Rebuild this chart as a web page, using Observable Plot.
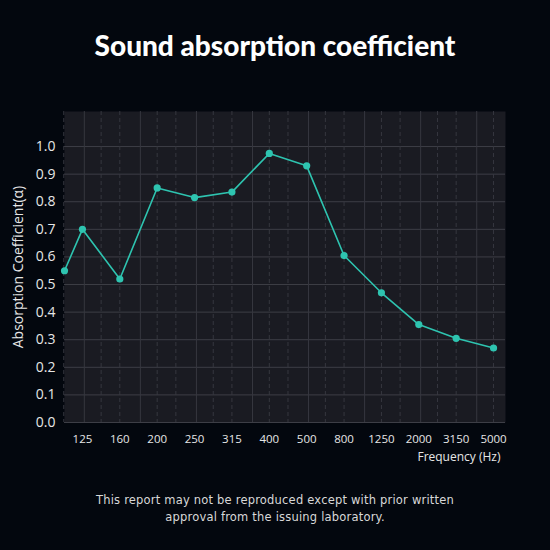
<!DOCTYPE html>
<html>
<head>
<meta charset="utf-8">
<script src="https://cdn.jsdelivr.net/npm/d3@7"></script>
<script src="https://cdn.jsdelivr.net/npm/@observablehq/plot@0.6"></script>
<style>
  html, body { margin: 0; padding: 0; background: #03070e; }
  body { width: 550px; height: 550px; overflow: hidden; }
  #title {
    margin: 0; text-align: center; color: #ffffff;
    font: 900 28px "Lato", sans-serif; height: 70px; line-height: 90px;
  }
  #chart { height: 410px; }
  #foot {
    margin-top: 12px; text-align: center; color: #d8d8d8;
    font: 11.5px "DejaVu Sans", sans-serif; line-height: 17px; letter-spacing: 0.2px;
  }
</style>
</head>
<body>
<div id="title">Sound absorption coefficient</div>
<div id="chart"></div>
<div id="foot">This report may not be reproduced except with prior written<br>approval from the issuing laboratory.</div>
<script>
// first band is drawn at the left edge without a label
const freqs = ["", "125", "160", "200", "250", "315", "400", "500", "800", "1250", "2000", "3150", "5000"];
const alpha = [0.55, 0.70, 0.52, 0.85, 0.815, 0.835, 0.975, 0.93, 0.605, 0.47, 0.355, 0.305, 0.27];

const data = freqs.map((f, i) => ({pos: i === 0 ? -0.48 : i - 1, freq: f, a: alpha[i]}));
const tickLabels = freqs.slice(1);

const teal = "#2ec4b0";
const major = d3.range(0.05, 11.3, 1.5);
const minor = d3.range(-0.5, 11.3, 0.5).filter(v => !major.some(m => Math.abs(m - v) < 0.2));

const chart = Plot.plot({
  width: 550,
  height: 410,
  marginLeft: 64,
  marginRight: 45,
  marginTop: 41,
  marginBottom: 58,
  style: {background: "transparent", color: "#e6e6e6", fontFamily: "Open Sans, sans-serif"},
  x: {domain: [-0.48, 11.32], label: null},
  y: {domain: [0, 1.127], label: null},
  marks: [
    Plot.frame({fill: "#1a1b22", stroke: null}),
    Plot.ruleY(d3.range(0, 1.05, 0.1), {stroke: "#3d3e46", strokeWidth: 1}),
    Plot.ruleX(major, {stroke: "#36373f", strokeWidth: 1}),
    Plot.ruleX(minor, {stroke: "#36373f", strokeWidth: 1, strokeDasharray: "4,3"}),
    Plot.axisY(d3.range(0, 1.05, 0.1), {
      tickSize: 0, tickPadding: 9, tickFormat: d3.format(".1f"), fontSize: 14,
      label: "Absorption Coefficient(α)", labelAnchor: "center", labelOffset: 51, labelArrow: "none"
    }),
    Plot.axisX(d3.range(0, 12), {
      tickSize: 0, tickPadding: 12, tickFormat: i => tickLabels[i], fontSize: 11.5, label: null
    }),
    Plot.text(["Frequency (Hz)"], {
      frameAnchor: "bottom-right", text: d => d, dx: -5, dy: 38, fontSize: 12, fill: "#e6e6e6"
    }),
    Plot.line(data, {x: "pos", y: "a", stroke: teal, strokeWidth: 1.6}),
    Plot.dot(data, {x: "pos", y: "a", r: 3.6, fill: teal})
  ]
});
document.getElementById("chart").append(chart);
</script>
</body>
</html>
